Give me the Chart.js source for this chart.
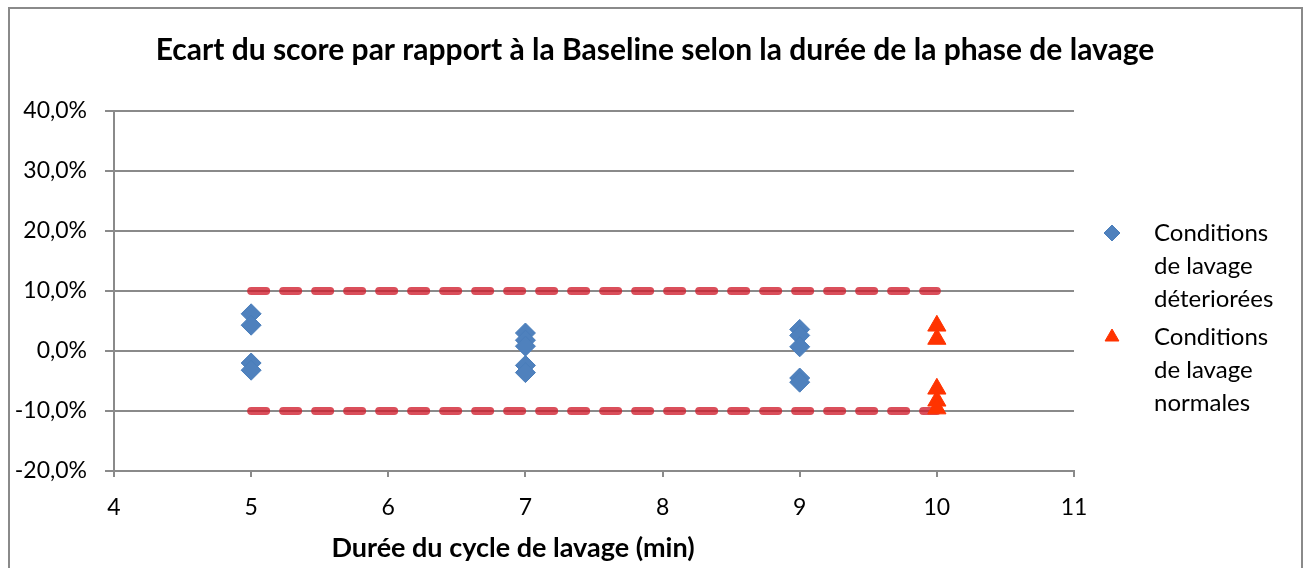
<!DOCTYPE html>
<html>
<head>
<meta charset="utf-8">
<script src="https://cdn.jsdelivr.net/npm/chart.js@4.4.0/dist/chart.umd.min.js"></script>
<style>
  html, body { margin: 0; padding: 0; background: #fff; }
  canvas { display: block; }
</style>
</head>
<body>
<canvas id="chart" width="1308" height="568"></canvas>
<script>
// Textes
const titre = 'Ecart du score par rapport à la Baseline selon la durée de la phase de lavage';
const titreAxeX = 'Durée du cycle de lavage (min)';
const legendeDeteriorees = ['Conditions', 'de lavage', 'déteriorées'];
const legendeNormales = ['Conditions', 'de lavage', 'normales'];

// Données (écart en %)
const dureesDeteriorees = [5, 5, 5, 5, 7, 7, 7, 7, 7, 9, 9, 9, 9, 9];
const ecartsDeteriores = [6.2, 4.3, -2.0, -3.2, 3.0, 1.8, 0.8, -2.4, -3.6, 3.6, 2.6, 0.7, -4.5, -5.2];
const dureesNormales = [10, 10, 10, 10, 10];
const ecartsNormaux = [4.2, 2.0, -6.3, -8.3, -9.6];

// Limites +/- 10 %
const limiteX = [5, 10];
const limiteHaute = [10, 10];
const limiteBasse = [-10, -10];

// Axes
const xMin = 4, xMax = 11, xPas = 1;
const yMin = -20, yMax = 40, yPas = 10;

const police = 'Lato, "Open Sans", sans-serif';
const gris = '#8a8a8a';

function points(xs, ys) {
    return xs.map((x, i) => ({ x: x, y: ys[i] }));
}

function formatPct(v) {
    return (Math.abs(v) < 1e-9 ? 0 : v).toFixed(1).replace('.', ',') + '%';
}

// Cadre, titre, titre de l'axe X et légende
const decor = {
    id: 'decor',
    beforeDraw(chart) {
        const ctx = chart.ctx;
        ctx.save();
        ctx.fillStyle = '#fff';
        ctx.fillRect(0, 0, chart.width, chart.height);
        ctx.strokeStyle = gris;
        ctx.lineWidth = 2;
        ctx.strokeRect(9, 8, 1293, chart.height + 10);
        ctx.restore();
    },
    afterDraw(chart) {
        const ctx = chart.ctx;
        ctx.save();
        ctx.fillStyle = '#000';
        ctx.textAlign = 'center';
        ctx.textBaseline = 'middle';
        ctx.font = 'bold 30px ' + police;
        ctx.fillText(titre, 655, 50);
        ctx.font = 'bold 27px ' + police;
        ctx.fillText(titreAxeX, 513, 548);

        const entrees = [
            { lignes: legendeDeteriorees, ds: chart.data.datasets[0], y: 233 },
            { lignes: legendeNormales, ds: chart.data.datasets[1], y: 337 }
        ];
        ctx.textAlign = 'left';
        ctx.font = '24px ' + police;
        entrees.forEach(e => {
            ctx.fillStyle = e.ds.backgroundColor;
            ctx.strokeStyle = e.ds.borderColor;
            Chart.helpers.drawPoint(ctx, {
                pointStyle: e.ds.pointStyle,
                radius: 8,
                rotation: 0,
                borderWidth: 1
            }, 1112, e.y);
            ctx.fillStyle = '#000';
            e.lignes.forEach((t, i) => ctx.fillText(t, 1154, e.y + i * 33));
        });
        ctx.restore();
    }
};

const styleLimite = {
    showLine: true,
    borderColor: 'rgba(208, 30, 45, 0.78)',
    borderWidth: 8,
    borderDash: [15, 17],
    borderCapStyle: 'round',
    pointRadius: 0,
    fill: false
};

new Chart(document.getElementById('chart'), {
    type: 'scatter',
    data: {
        datasets: [
            {
                label: legendeDeteriorees.join(' '),
                data: points(dureesDeteriorees, ecartsDeteriores),
                pointStyle: 'rectRot',
                pointRadius: 10,
                backgroundColor: '#4F81BD',
                borderColor: '#4A7EBB',
                borderWidth: 1
            },
            {
                label: legendeNormales.join(' '),
                data: points(dureesNormales, ecartsNormaux),
                pointStyle: 'triangle',
                pointRadius: 10.5,
                backgroundColor: '#FF3300',
                borderColor: '#FF3300',
                borderWidth: 1
            },
            Object.assign({ label: '+10%', data: points(limiteX, limiteHaute) }, styleLimite),
            Object.assign({ label: '-10%', data: points(limiteX, limiteBasse) }, styleLimite)
        ]
    },
    options: {
        responsive: false,
        animation: false,
        devicePixelRatio: 1,
        events: [],
        layout: { padding: { left: 0, right: 234, top: 111, bottom: 0 } },
        plugins: {
            legend: { display: false },
            title: { display: false },
            tooltip: { enabled: false }
        },
        scales: {
            x: {
                type: 'linear',
                min: xMin,
                max: xMax,
                afterFit(scale) { scale.height = 97; },
                ticks: {
                    stepSize: xPas,
                    color: '#000',
                    padding: 17,
                    font: { family: police, size: 23 }
                },
                grid: { drawOnChartArea: false, drawTicks: true, tickLength: 6, color: gris, lineWidth: 2 },
                border: { display: true, color: gris, width: 2 }
            },
            y: {
                min: yMin,
                max: yMax,
                afterFit(scale) { scale.width = 114; },
                ticks: {
                    stepSize: yPas,
                    color: '#000',
                    padding: 18,
                    font: { family: police, size: 23 },
                    callback: v => formatPct(v)
                },
                grid: { drawOnChartArea: true, drawTicks: true, tickLength: 9, color: gris, lineWidth: 2 },
                border: { display: true, color: gris, width: 2 }
            }
        }
    },
    plugins: [decor]
});
</script>
</body>
</html>
